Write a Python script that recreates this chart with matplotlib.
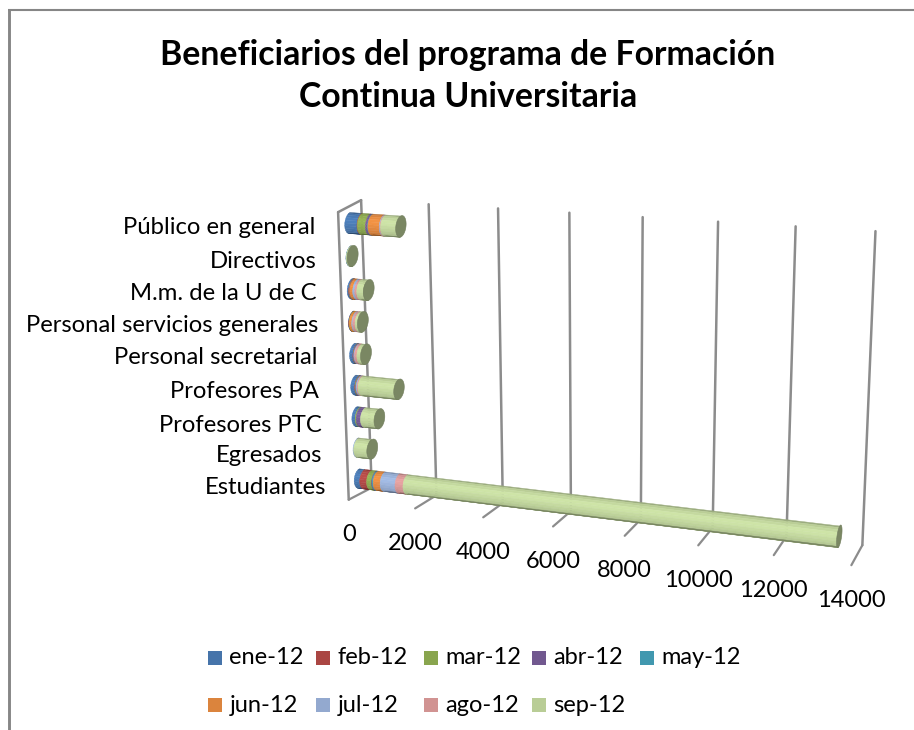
import numpy as np
import matplotlib
matplotlib.use("Agg")
import matplotlib.pyplot as plt
from matplotlib.patches import Polygon, Rectangle

plt.rcParams['font.family'] = ['Lato', 'DejaVu Sans']

# ---- data ----
title_lines = ["Beneficiarios del programa de Formación", "Continua Universitaria"]
categories = ["Estudiantes", "Egresados", "Profesores PTC", "Profesores PA", "Personal secretarial",
              "Personal servicios generales", "M.m. de la U de C", "Directivos", "Público en general"]
months = ["ene-12", "feb-12", "mar-12", "abr-12", "may-12", "jun-12", "jul-12", "ago-12", "sep-12"]
ene = [170, 0, 100, 120, 100, 10, 45, 5, 360]
feb = [210, 0, 0, 10, 10, 10, 10, 0, 10]
mar = [150, 0, 30, 20, 10, 10, 10, 0, 240]
abr = [20, 0, 130, 10, 10, 0, 10, 0, 60]
may = [30, 0, 0, 0, 0, 0, 0, 0, 10]
jun = [210, 0, 0, 0, 0, 70, 90, 0, 330]
jul = [450, 20, 0, 30, 20, 30, 60, 0, 20]
ago = [240, 0, 0, 30, 70, 70, 60, 0, 20]
sep = [12050, 400, 410, 1070, 110, 70, 195, 30, 440]
series = [ene, feb, mar, abr, may, jun, jul, ago, sep]
colors = ["#4674AA", "#AA4643", "#89A54E", "#71588F", "#4198AF", "#DB843D", "#93A9CF", "#D19392", "#B9CD96"]
value_ticks = [0, 2000, 4000, 6000, 8000, 10000, 12000, 14000]
VMAX = 14000
NCAT = len(categories)

# ---- perspective calibration (value, category) -> picture pixels on the back wall ----
calib = [(0, 0, 372, 488), (14000, 0, 863, 543), (0, 9, 362, 200), (14000, 9, 876, 232),
         (2000, 9, 428, 204), (4000, 9, 498, 208), (10000, 9, 717, 222), (12000, 9, 796, 226),
         (2000, 0, 436, 495), (4000, 0, 503, 503), (10000, 0, 712.5, 529), (12000, 0, 786, 537)]
A, b = [], []
for v, c, X, Y in calib:
    u, t = v / VMAX, c / NCAT
    A.append([u, t, 1, 0, 0, 0, -u * X, -t * X]); b.append(X)
    A.append([0, 0, 0, u, t, 1, -u * Y, -t * Y]); b.append(Y)
H = np.linalg.lstsq(np.array(A, float), np.array(b, float), rcond=None)[0]


def project(v, c, d=0.0):
    """value, category position, depth (0 back wall .. 1 front) -> pixels"""
    u, t = np.asarray(v, float) / VMAX, np.asarray(c, float) / NCAT
    w = H[6] * u + H[7] * t + 1
    X = (H[0] * u + H[1] * t + H[2]) / w
    Y = (H[3] * u + H[4] * t + H[5]) / w
    return X + (-23 + 12 * u) * d, Y + (12 + 8 * u) * d


fig = plt.figure(figsize=(9.14, 7.30), dpi=100, facecolor="white")
ax = fig.add_axes([0, 0, 1, 1])
ax.set_xlim(0, 914)
ax.set_ylim(730, 0)
ax.axis("off")

GRAY = "#8C8C8C"
# outer frame
ax.plot([8.5, 8.5], [730, 9], color="#868686", lw=2.1, solid_capstyle="butt", zorder=1)
ax.plot([7.5, 914], [10, 10], color="#868686", lw=1.5, solid_capstyle="butt", zorder=1)


def seg(p, q, lw=1.8, color=GRAY, z=2):
    ax.plot([p[0], q[0]], [p[1], q[1]], color=color, lw=lw, solid_capstyle="round", zorder=z)


# walls and grid
for v in value_ticks:
    seg(project(v, 0), project(v, NCAT))
    seg(project(v, 0), project(v, 0, 1), lw=1.6)
seg(project(0, NCAT), project(0, NCAT, 1))
seg(project(0, 0, 1), project(0, NCAT, 1))

# cylinders
R_C, R_D, D0 = 0.31, 0.24, 0.5
theta = np.linspace(0, np.pi, 13)
t_key = [0, 0.12, 0.32, 0.6, 0.85, 1.0]
f_key = [0.75, 1.0, 1.13, 1.0, 0.85, 0.55]


def shade(col, f):
    return np.clip(np.array(matplotlib.colors.to_rgb(col)) * f, 0, 1)


for i in range(NCAT):
    c0 = i + 0.5
    start = 0.0
    last = None
    for s, col in zip(series, colors):
        val = s[i]
        if val <= 0:
            continue
        end = start + val
        for k in range(len(theta) - 1):
            a0, a1 = theta[k], theta[k + 1]
            f = np.interp(0.5 * (a0 + a1) / np.pi, t_key, f_key)
            pts = []
            for vv, aa in ((start, a0), (end, a0), (end, a1), (start, a1)):
                pts.append(project(vv, c0 + R_C * np.cos(aa), D0 + R_D * np.sin(aa)))
            fc = shade(col, f)
            ax.add_patch(Polygon(pts, closed=True, facecolor=fc, edgecolor=fc, lw=0.3, zorder=5 + i * 0.01))
        start = end
        last = col
    aa = np.linspace(0, 2 * np.pi, 41)
    cap = np.array(project(start, c0 + R_C * np.cos(aa), D0 + R_D * np.sin(aa))).T
    ax.add_patch(Polygon(cap, closed=True, facecolor=shade(last, 0.66), edgecolor=shade(last, 0.6),
                         lw=0.4, zorder=5.5))

# title
ax.text(468, 55, title_lines[0], ha="center", va="center", fontsize=24.3, fontweight="bold", color="black")
ax.text(468, 97, title_lines[1], ha="center", va="center", fontsize=24.3, fontweight="bold", color="black")

# category labels
label_right = [326, 322, 322, 319, 318, 318, 317, 317, 315]
label_y = [487, 456, 425, 391, 358, 325, 293, 261, 228]
for name, xr, yy in zip(categories, label_right, label_y):
    ax.text(xr, yy, name, ha="right", va="center", fontsize=17.2, color="black")

# value labels
for v in value_ticks:
    X, Y = project(v, 0, 1)
    ax.text(X, Y + 35, str(v), ha="center", va="center", fontsize=17, color="black")

# legend
legend_x = [208, 316, 424, 531.5, 640]
legend_y = [658, 705]
for n, (m, col) in enumerate(zip(months, colors)):
    lx, ly = legend_x[n % 5], legend_y[n // 5]
    ax.add_patch(Rectangle((lx, ly - 7), 14, 14, facecolor=col, edgecolor="none", zorder=3))
    ax.text(lx + 21.5, ly, m, ha="left", va="center", fontsize=17, color="black")

fig.savefig("out.png", dpi=100, facecolor="white")
